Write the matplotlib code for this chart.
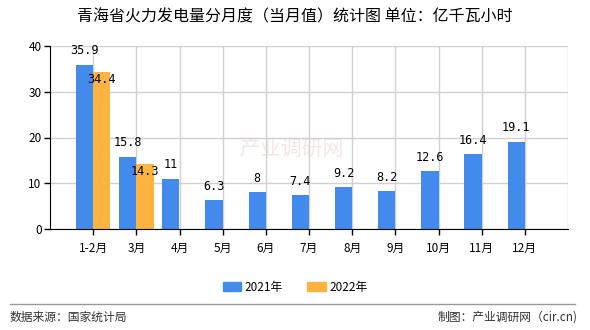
import numpy as np
import matplotlib.pyplot as plt
from matplotlib.patches import Patch
from matplotlib.lines import Line2D

plt.rcParams['font.family'] = ['Noto Sans CJK SC', 'DejaVu Sans']

# ---------- data ----------
months = ["1-2月", "3月", "4月", "5月", "6月", "7月", "8月", "9月", "10月", "11月", "12月"]
vals_2021 = [35.9, 15.8, 11, 6.3, 8, 7.4, 9.2, 8.2, 12.6, 16.4, 19.1]
vals_2022 = [34.4, 14.3]
label_2021 = ["35.9", "15.8", "11", "6.3", "8", "7.4", "9.2", "8.2", "12.6", "16.4", "19.1"]
label_2022 = ["34.4", "14.3"]

title = "青海省火力发电量分月度（当月值）统计图 单位：亿千瓦小时"
source = "数据来源：国家统计局"
credit = "制图：产业调研网（cir.cn)"

BLUE = "#428BED"
ORANGE = "#FBB43F"

fig = plt.figure(figsize=(5.9, 3.3), dpi=100)
ax = fig.add_axes([50 / 590, 1 - 229 / 330, 518 / 590, 183 / 330])

x = np.arange(1, len(months) + 1)
w = 0.4
ax.bar(x - w / 2, vals_2021, width=w, color=BLUE, zorder=3)
x2 = x[:len(vals_2022)]
ax.bar(x2 + w / 2, vals_2022, width=w, color=ORANGE, zorder=3)

for xi, v, t in zip(x, vals_2021, label_2021):
    ax.text(xi - w / 2, v + 1.6, t, ha="center", va="bottom", fontsize=8.5,
            family="DejaVu Sans Mono", zorder=4)
for xi, v, t in zip(x2, vals_2022, label_2022):
    ax.text(xi + w / 2, v - 1.8, t, ha="center", va="center", fontsize=8.5,
            family="DejaVu Sans Mono", zorder=4)

ax.set_xlim(0, 12)
ax.set_ylim(0, 40)
ax.set_yticks([0, 10, 20, 30, 40])
ax.set_xticks(x)
ax.set_xticklabels(months, fontsize=8.5)
ax.tick_params(axis="y", labelsize=8.5, length=4, width=1, pad=2)
ax.tick_params(axis="x", length=4, width=1, pad=5)

# grid: horizontal at y ticks, vertical at each category and right edge
ax.grid(True, color="#d0d0d0", linewidth=1, zorder=0)
ax.axvline(12, color="#d0d0d0", linewidth=1, zorder=0)
for s in ["top", "right"]:
    ax.spines[s].set_visible(False)
ax.spines["left"].set_zorder(5)
ax.spines["bottom"].set_zorder(5)

# faint watermark
ax.text(5.6, 17.5, "产业调研网", ha="center", va="center", fontsize=15,
        color="#f6e6e6", zorder=1)

fig.text(0.5, 1 - 17 / 330, title, ha="center", va="center", fontsize=11.5)

handles = [Patch(color=BLUE, label="2021年"), Patch(color=ORANGE, label="2022年")]
fig.legend(handles=handles, loc="center", bbox_to_anchor=(0.5, 1 - 287 / 330),
           ncol=2, frameon=False, fontsize=8.5, handlelength=1.6, handleheight=0.8,
           columnspacing=2.0, handletextpad=0.3)

fig.add_artist(Line2D([10 / 590, 575 / 590], [1 - 304 / 330, 1 - 304 / 330],
                      color="#999999", linewidth=1))
fig.text(10 / 590, 1 - 317 / 330, source, ha="left", va="center", fontsize=8.5, color="#333333")
fig.text(578 / 590, 1 - 317 / 330, credit, ha="right", va="center", fontsize=8.5, color="#333333")

fig.savefig("out.png", dpi=100)
